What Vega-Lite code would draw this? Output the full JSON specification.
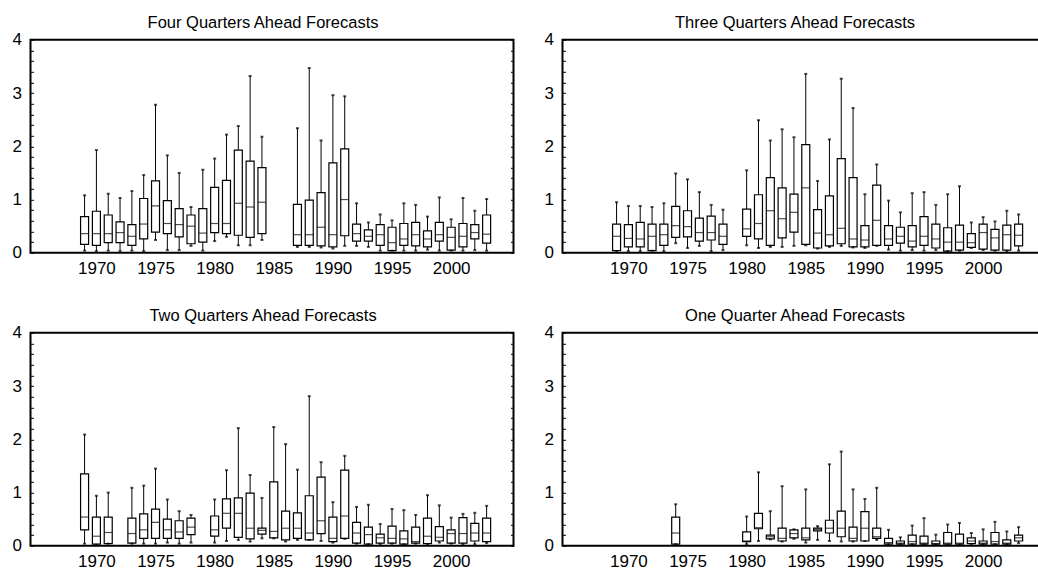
{
  "$schema": "https://vega.github.io/schema/vega-lite/v6.json",
  "padding": {"left": 10.5, "top": 13.8, "right": 0, "bottom": 0},
  "datasets": {
    "boxes": [
      {"p":"F4","year":1969,"lo":0.04,"q1":0.16,"med":0.36,"q3":0.68,"hi":1.08},
      {"p":"F4","year":1970,"lo":0.03,"q1":0.14,"med":0.36,"q3":0.78,"hi":1.93},
      {"p":"F4","year":1971,"lo":0.04,"q1":0.19,"med":0.36,"q3":0.71,"hi":1.11},
      {"p":"F4","year":1972,"lo":0.03,"q1":0.19,"med":0.38,"q3":0.58,"hi":1.03},
      {"p":"F4","year":1973,"lo":0.04,"q1":0.14,"med":0.31,"q3":0.53,"hi":1.16},
      {"p":"F4","year":1974,"lo":0.03,"q1":0.26,"med":0.54,"q3":1.02,"hi":1.46},
      {"p":"F4","year":1975,"lo":0.24,"q1":0.39,"med":0.88,"q3":1.35,"hi":2.78},
      {"p":"F4","year":1976,"lo":0.05,"q1":0.36,"med":0.55,"q3":0.98,"hi":1.83},
      {"p":"F4","year":1977,"lo":0.05,"q1":0.30,"med":0.53,"q3":0.83,"hi":1.50},
      {"p":"F4","year":1978,"lo":0.13,"q1":0.17,"med":0.50,"q3":0.71,"hi":0.86},
      {"p":"F4","year":1979,"lo":0.04,"q1":0.20,"med":0.37,"q3":0.83,"hi":1.56},
      {"p":"F4","year":1980,"lo":0.22,"q1":0.38,"med":0.55,"q3":1.23,"hi":1.77},
      {"p":"F4","year":1981,"lo":0.30,"q1":0.36,"med":0.55,"q3":1.36,"hi":2.22},
      {"p":"F4","year":1982,"lo":0.14,"q1":0.33,"med":0.93,"q3":1.93,"hi":2.38},
      {"p":"F4","year":1983,"lo":0.14,"q1":0.29,"med":0.86,"q3":1.72,"hi":3.32},
      {"p":"F4","year":1984,"lo":0.24,"q1":0.36,"med":0.95,"q3":1.60,"hi":2.18},
      {"p":"F4","year":1987,"lo":0.11,"q1":0.14,"med":0.34,"q3":0.91,"hi":2.34},
      {"p":"F4","year":1988,"lo":0.11,"q1":0.14,"med":0.34,"q3":0.99,"hi":3.47},
      {"p":"F4","year":1989,"lo":0.10,"q1":0.13,"med":0.48,"q3":1.13,"hi":2.11},
      {"p":"F4","year":1990,"lo":0.08,"q1":0.11,"med":0.34,"q3":1.69,"hi":2.96},
      {"p":"F4","year":1991,"lo":0.13,"q1":0.32,"med":1.00,"q3":1.95,"hi":2.94},
      {"p":"F4","year":1992,"lo":0.13,"q1":0.22,"med":0.36,"q3":0.54,"hi":0.93},
      {"p":"F4","year":1993,"lo":0.11,"q1":0.22,"med":0.31,"q3":0.43,"hi":0.57},
      {"p":"F4","year":1994,"lo":0.04,"q1":0.14,"med":0.34,"q3":0.53,"hi":0.72},
      {"p":"F4","year":1995,"lo":0.04,"q1":0.04,"med":0.19,"q3":0.48,"hi":0.61},
      {"p":"F4","year":1996,"lo":0.04,"q1":0.14,"med":0.26,"q3":0.55,"hi":0.93},
      {"p":"F4","year":1997,"lo":0.04,"q1":0.13,"med":0.34,"q3":0.57,"hi":0.90},
      {"p":"F4","year":1998,"lo":0.06,"q1":0.11,"med":0.26,"q3":0.41,"hi":0.68},
      {"p":"F4","year":1999,"lo":0.04,"q1":0.22,"med":0.34,"q3":0.57,"hi":1.04},
      {"p":"F4","year":2000,"lo":0.04,"q1":0.05,"med":0.29,"q3":0.48,"hi":0.63},
      {"p":"F4","year":2001,"lo":0.04,"q1":0.11,"med":0.31,"q3":0.55,"hi":1.03},
      {"p":"F4","year":2002,"lo":0.05,"q1":0.26,"med":0.38,"q3":0.53,"hi":0.79},
      {"p":"F4","year":2003,"lo":0.04,"q1":0.18,"med":0.35,"q3":0.71,"hi":1.01},

      {"p":"F3","year":1969,"lo":0.03,"q1":0.04,"med":0.31,"q3":0.54,"hi":0.95},
      {"p":"F3","year":1970,"lo":0.03,"q1":0.11,"med":0.27,"q3":0.53,"hi":0.88},
      {"p":"F3","year":1971,"lo":0.03,"q1":0.11,"med":0.26,"q3":0.57,"hi":0.88},
      {"p":"F3","year":1972,"lo":0.04,"q1":0.04,"med":0.31,"q3":0.54,"hi":0.86},
      {"p":"F3","year":1973,"lo":0.03,"q1":0.14,"med":0.34,"q3":0.54,"hi":0.93},
      {"p":"F3","year":1974,"lo":0.18,"q1":0.29,"med":0.51,"q3":0.87,"hi":1.49},
      {"p":"F3","year":1975,"lo":0.09,"q1":0.30,"med":0.49,"q3":0.79,"hi":1.38},
      {"p":"F3","year":1976,"lo":0.13,"q1":0.22,"med":0.38,"q3":0.65,"hi":1.14},
      {"p":"F3","year":1977,"lo":0.03,"q1":0.24,"med":0.38,"q3":0.69,"hi":0.90},
      {"p":"F3","year":1978,"lo":0.05,"q1":0.16,"med":0.31,"q3":0.54,"hi":0.81},
      {"p":"F3","year":1980,"lo":0.14,"q1":0.31,"med":0.45,"q3":0.82,"hi":1.55},
      {"p":"F3","year":1981,"lo":0.09,"q1":0.26,"med":0.55,"q3":1.09,"hi":2.49},
      {"p":"F3","year":1982,"lo":0.11,"q1":0.14,"med":0.79,"q3":1.41,"hi":2.11},
      {"p":"F3","year":1983,"lo":0.11,"q1":0.28,"med":0.64,"q3":1.22,"hi":2.32},
      {"p":"F3","year":1984,"lo":0.13,"q1":0.39,"med":0.76,"q3":1.10,"hi":2.17},
      {"p":"F3","year":1985,"lo":0.14,"q1":0.16,"med":1.22,"q3":2.03,"hi":3.36},
      {"p":"F3","year":1986,"lo":0.08,"q1":0.09,"med":0.37,"q3":0.81,"hi":1.35},
      {"p":"F3","year":1987,"lo":0.11,"q1":0.13,"med":0.34,"q3":1.07,"hi":2.13},
      {"p":"F3","year":1988,"lo":0.13,"q1":0.17,"med":0.46,"q3":1.77,"hi":3.27},
      {"p":"F3","year":1989,"lo":0.10,"q1":0.11,"med":0.26,"q3":1.41,"hi":2.72},
      {"p":"F3","year":1990,"lo":0.09,"q1":0.11,"med":0.24,"q3":0.51,"hi":1.10},
      {"p":"F3","year":1991,"lo":0.13,"q1":0.14,"med":0.61,"q3":1.27,"hi":1.66},
      {"p":"F3","year":1992,"lo":0.06,"q1":0.14,"med":0.26,"q3":0.51,"hi":0.98},
      {"p":"F3","year":1993,"lo":0.04,"q1":0.18,"med":0.31,"q3":0.48,"hi":0.76},
      {"p":"F3","year":1994,"lo":0.05,"q1":0.11,"med":0.22,"q3":0.51,"hi":1.12},
      {"p":"F3","year":1995,"lo":0.04,"q1":0.14,"med":0.31,"q3":0.68,"hi":1.14},
      {"p":"F3","year":1996,"lo":0.05,"q1":0.09,"med":0.26,"q3":0.54,"hi":0.90},
      {"p":"F3","year":1997,"lo":0.03,"q1":0.03,"med":0.20,"q3":0.47,"hi":1.10},
      {"p":"F3","year":1998,"lo":0.04,"q1":0.05,"med":0.20,"q3":0.52,"hi":1.25},
      {"p":"F3","year":1999,"lo":0.09,"q1":0.10,"med":0.19,"q3":0.36,"hi":0.57},
      {"p":"F3","year":2000,"lo":0.05,"q1":0.07,"med":0.38,"q3":0.54,"hi":0.67},
      {"p":"F3","year":2001,"lo":0.04,"q1":0.05,"med":0.28,"q3":0.44,"hi":0.59},
      {"p":"F3","year":2002,"lo":0.03,"q1":0.05,"med":0.34,"q3":0.52,"hi":0.79},
      {"p":"F3","year":2003,"lo":0.04,"q1":0.13,"med":0.33,"q3":0.54,"hi":0.72},

      {"p":"F2","year":1969,"lo":0.04,"q1":0.30,"med":0.54,"q3":1.35,"hi":2.09},
      {"p":"F2","year":1970,"lo":0.02,"q1":0.03,"med":0.18,"q3":0.54,"hi":0.94},
      {"p":"F2","year":1971,"lo":0.04,"q1":0.04,"med":0.25,"q3":0.54,"hi":1.00},
      {"p":"F2","year":1973,"lo":0.04,"q1":0.05,"med":0.23,"q3":0.52,"hi":1.09},
      {"p":"F2","year":1974,"lo":0.04,"q1":0.14,"med":0.30,"q3":0.60,"hi":1.13},
      {"p":"F2","year":1975,"lo":0.04,"q1":0.14,"med":0.44,"q3":0.69,"hi":1.45},
      {"p":"F2","year":1976,"lo":0.06,"q1":0.14,"med":0.30,"q3":0.50,"hi":0.87},
      {"p":"F2","year":1977,"lo":0.04,"q1":0.14,"med":0.26,"q3":0.47,"hi":0.65},
      {"p":"F2","year":1978,"lo":0.06,"q1":0.21,"med":0.35,"q3":0.52,"hi":0.58},
      {"p":"F2","year":1980,"lo":0.06,"q1":0.18,"med":0.30,"q3":0.56,"hi":0.87},
      {"p":"F2","year":1981,"lo":0.09,"q1":0.33,"med":0.61,"q3":0.88,"hi":1.42},
      {"p":"F2","year":1982,"lo":0.11,"q1":0.16,"med":0.61,"q3":0.90,"hi":2.21},
      {"p":"F2","year":1983,"lo":0.08,"q1":0.13,"med":0.33,"q3":0.99,"hi":1.33},
      {"p":"F2","year":1984,"lo":0.14,"q1":0.22,"med":0.29,"q3":0.33,"hi":0.90},
      {"p":"F2","year":1985,"lo":0.14,"q1":0.15,"med":0.27,"q3":1.20,"hi":2.23},
      {"p":"F2","year":1986,"lo":0.08,"q1":0.11,"med":0.33,"q3":0.65,"hi":1.91},
      {"p":"F2","year":1987,"lo":0.11,"q1":0.14,"med":0.33,"q3":0.62,"hi":1.43},
      {"p":"F2","year":1988,"lo":0.11,"q1":0.11,"med":0.24,"q3":0.94,"hi":2.81},
      {"p":"F2","year":1989,"lo":0.09,"q1":0.23,"med":0.47,"q3":1.29,"hi":1.57},
      {"p":"F2","year":1990,"lo":0.06,"q1":0.08,"med":0.14,"q3":0.54,"hi":0.82},
      {"p":"F2","year":1991,"lo":0.13,"q1":0.14,"med":0.56,"q3":1.42,"hi":1.69},
      {"p":"F2","year":1992,"lo":0.04,"q1":0.05,"med":0.24,"q3":0.44,"hi":0.73},
      {"p":"F2","year":1993,"lo":0.03,"q1":0.03,"med":0.21,"q3":0.35,"hi":0.77},
      {"p":"F2","year":1994,"lo":0.03,"q1":0.05,"med":0.15,"q3":0.22,"hi":0.41},
      {"p":"F2","year":1995,"lo":0.04,"q1":0.05,"med":0.14,"q3":0.37,"hi":0.69},
      {"p":"F2","year":1996,"lo":0.03,"q1":0.03,"med":0.13,"q3":0.28,"hi":0.67},
      {"p":"F2","year":1997,"lo":0.04,"q1":0.05,"med":0.08,"q3":0.35,"hi":0.58},
      {"p":"F2","year":1998,"lo":0.03,"q1":0.04,"med":0.18,"q3":0.52,"hi":0.95},
      {"p":"F2","year":1999,"lo":0.06,"q1":0.09,"med":0.16,"q3":0.36,"hi":0.76},
      {"p":"F2","year":2000,"lo":0.04,"q1":0.05,"med":0.23,"q3":0.30,"hi":0.53},
      {"p":"F2","year":2001,"lo":0.03,"q1":0.05,"med":0.23,"q3":0.53,"hi":0.60},
      {"p":"F2","year":2002,"lo":0.03,"q1":0.09,"med":0.24,"q3":0.42,"hi":0.62},
      {"p":"F2","year":2003,"lo":0.05,"q1":0.08,"med":0.24,"q3":0.52,"hi":0.75},

      {"p":"F1","year":1974,"lo":0.03,"q1":0.03,"med":0.24,"q3":0.54,"hi":0.78},
      {"p":"F1","year":1980,"lo":0.03,"q1":0.08,"med":0.09,"q3":0.26,"hi":0.55},
      {"p":"F1","year":1981,"lo":0.09,"q1":0.32,"med":0.34,"q3":0.61,"hi":1.38},
      {"p":"F1","year":1982,"lo":0.12,"q1":0.13,"med":0.17,"q3":0.20,"hi":0.65},
      {"p":"F1","year":1983,"lo":0.08,"q1":0.09,"med":0.14,"q3":0.33,"hi":1.12},
      {"p":"F1","year":1984,"lo":0.13,"q1":0.15,"med":0.23,"q3":0.30,"hi":0.31},
      {"p":"F1","year":1985,"lo":0.06,"q1":0.11,"med":0.15,"q3":0.33,"hi":1.06},
      {"p":"F1","year":1986,"lo":0.11,"q1":0.28,"med":0.31,"q3":0.33,"hi":0.37},
      {"p":"F1","year":1987,"lo":0.09,"q1":0.24,"med":0.33,"q3":0.48,"hi":1.53},
      {"p":"F1","year":1988,"lo":0.08,"q1":0.17,"med":0.33,"q3":0.65,"hi":1.77},
      {"p":"F1","year":1989,"lo":0.08,"q1":0.09,"med":0.14,"q3":0.35,"hi":1.06},
      {"p":"F1","year":1990,"lo":0.09,"q1":0.09,"med":0.33,"q3":0.64,"hi":0.88},
      {"p":"F1","year":1991,"lo":0.11,"q1":0.14,"med":0.17,"q3":0.33,"hi":1.09},
      {"p":"F1","year":1992,"lo":0.03,"q1":0.03,"med":0.06,"q3":0.14,"hi":0.30},
      {"p":"F1","year":1993,"lo":0.03,"q1":0.03,"med":0.05,"q3":0.09,"hi":0.16},
      {"p":"F1","year":1994,"lo":0.03,"q1":0.03,"med":0.08,"q3":0.20,"hi":0.38},
      {"p":"F1","year":1995,"lo":0.03,"q1":0.03,"med":0.05,"q3":0.18,"hi":0.52},
      {"p":"F1","year":1996,"lo":0.02,"q1":0.03,"med":0.04,"q3":0.09,"hi":0.21},
      {"p":"F1","year":1997,"lo":0.02,"q1":0.03,"med":0.05,"q3":0.25,"hi":0.40},
      {"p":"F1","year":1998,"lo":0.02,"q1":0.03,"med":0.05,"q3":0.22,"hi":0.43},
      {"p":"F1","year":1999,"lo":0.03,"q1":0.04,"med":0.09,"q3":0.15,"hi":0.24},
      {"p":"F1","year":2000,"lo":0.03,"q1":0.03,"med":0.05,"q3":0.09,"hi":0.31},
      {"p":"F1","year":2001,"lo":0.03,"q1":0.03,"med":0.08,"q3":0.25,"hi":0.45},
      {"p":"F1","year":2002,"lo":0.03,"q1":0.03,"med":0.05,"q3":0.11,"hi":0.27},
      {"p":"F1","year":2003,"lo":0.05,"q1":0.09,"med":0.15,"q3":0.20,"hi":0.35}
    ]
  },
  "columns": 2,
  "spacing": {"row": 29, "column": 27},
  "concat": [
    {
      "title": "Four Quarters Ahead Forecasts",
      "width": 483, "height": 213,
      "data": {"name": "boxes"},
      "transform": [{"filter": "datum.p === 'F4'"}],
      "encoding": {"x": {"field": "year", "type": "quantitative", "scale": {"domain": [1964.85, 2004.85], "nice": false, "zero": false}, "axis": {"values": [1970,1975,1980,1985,1990,1995,2000], "format": "d", "ticks": false, "labelPadding": 8, "title": null}}},
      "resolve": {"axis": {"y": "independent"}},
      "layer": [
        {"mark": {"type": "rule", "color": "black", "strokeWidth": 1}, "encoding": {"y": {"field": "lo", "type": "quantitative", "scale": {"domain": [0, 4], "nice": false}, "axis": {"orient": "left", "values": [0,0.2,0.4,0.6,0.8,1,1.2,1.4,1.6,1.8,2,2.2,2.4,2.6,2.8,3,3.2,3.4,3.6,3.8,4], "labelExpr": "datum.value % 1 === 0 ? format(datum.value, 'd') : ''", "tickSize": -3, "labelPadding": 12, "labelOverlap": false, "title": null}}, "y2": {"field": "hi"}}},
        {"mark": {"type": "bar", "fill": "white", "stroke": "black", "strokeWidth": 1.2, "size": 8}, "encoding": {"y": {"field": "q1", "type": "quantitative", "scale": {"domain": [0, 4], "nice": false}, "axis": {"orient": "right", "values": [0,0.2,0.4,0.6,0.8,1,1.2,1.4,1.6,1.8,2,2.2,2.4,2.6,2.8,3,3.2,3.4,3.6,3.8,4], "labels": false, "tickSize": -3, "title": null}}, "y2": {"field": "q3"}}},
        {"mark": {"type": "tick", "orient": "horizontal", "color": "black", "size": 8, "thickness": 1.2}, "encoding": {"y": {"field": "med", "type": "quantitative", "scale": {"domain": [0, 4], "nice": false}, "axis": null}}},
        {"mark": {"type": "tick", "orient": "horizontal", "color": "black", "size": 3, "thickness": 2}, "encoding": {"y": {"field": "hi", "type": "quantitative", "scale": {"domain": [0, 4], "nice": false}, "axis": null}}},
        {"mark": {"type": "tick", "orient": "horizontal", "color": "black", "size": 3, "thickness": 2}, "encoding": {"y": {"field": "lo", "type": "quantitative", "scale": {"domain": [0, 4], "nice": false}, "axis": null}}}
      ]
    },
    {
      "title": "Three Quarters Ahead Forecasts",
      "width": 483, "height": 213,
      "data": {"name": "boxes"},
      "transform": [{"filter": "datum.p === 'F3'"}],
      "encoding": {"x": {"field": "year", "type": "quantitative", "scale": {"domain": [1964.85, 2004.85], "nice": false, "zero": false}, "axis": {"values": [1970,1975,1980,1985,1990,1995,2000], "format": "d", "ticks": false, "labelPadding": 8, "title": null}}},
      "resolve": {"axis": {"y": "independent"}},
      "layer": [
        {"mark": {"type": "rule", "color": "black", "strokeWidth": 1}, "encoding": {"y": {"field": "lo", "type": "quantitative", "scale": {"domain": [0, 4], "nice": false}, "axis": {"orient": "left", "values": [0,0.2,0.4,0.6,0.8,1,1.2,1.4,1.6,1.8,2,2.2,2.4,2.6,2.8,3,3.2,3.4,3.6,3.8,4], "labelExpr": "datum.value % 1 === 0 ? format(datum.value, 'd') : ''", "tickSize": -3, "labelPadding": 12, "labelOverlap": false, "title": null}}, "y2": {"field": "hi"}}},
        {"mark": {"type": "bar", "fill": "white", "stroke": "black", "strokeWidth": 1.2, "size": 8}, "encoding": {"y": {"field": "q1", "type": "quantitative", "scale": {"domain": [0, 4], "nice": false}, "axis": {"orient": "right", "values": [0,0.2,0.4,0.6,0.8,1,1.2,1.4,1.6,1.8,2,2.2,2.4,2.6,2.8,3,3.2,3.4,3.6,3.8,4], "labels": false, "tickSize": -3, "title": null}}, "y2": {"field": "q3"}}},
        {"mark": {"type": "tick", "orient": "horizontal", "color": "black", "size": 8, "thickness": 1.2}, "encoding": {"y": {"field": "med", "type": "quantitative", "scale": {"domain": [0, 4], "nice": false}, "axis": null}}},
        {"mark": {"type": "tick", "orient": "horizontal", "color": "black", "size": 3, "thickness": 2}, "encoding": {"y": {"field": "hi", "type": "quantitative", "scale": {"domain": [0, 4], "nice": false}, "axis": null}}},
        {"mark": {"type": "tick", "orient": "horizontal", "color": "black", "size": 3, "thickness": 2}, "encoding": {"y": {"field": "lo", "type": "quantitative", "scale": {"domain": [0, 4], "nice": false}, "axis": null}}}
      ]
    },
    {
      "title": "Two Quarters Ahead Forecasts",
      "width": 483, "height": 213,
      "data": {"name": "boxes"},
      "transform": [{"filter": "datum.p === 'F2'"}],
      "encoding": {"x": {"field": "year", "type": "quantitative", "scale": {"domain": [1964.85, 2004.85], "nice": false, "zero": false}, "axis": {"values": [1970,1975,1980,1985,1990,1995,2000], "format": "d", "ticks": false, "labelPadding": 8, "title": null}}},
      "resolve": {"axis": {"y": "independent"}},
      "layer": [
        {"mark": {"type": "rule", "color": "black", "strokeWidth": 1}, "encoding": {"y": {"field": "lo", "type": "quantitative", "scale": {"domain": [0, 4], "nice": false}, "axis": {"orient": "left", "values": [0,0.2,0.4,0.6,0.8,1,1.2,1.4,1.6,1.8,2,2.2,2.4,2.6,2.8,3,3.2,3.4,3.6,3.8,4], "labelExpr": "datum.value % 1 === 0 ? format(datum.value, 'd') : ''", "tickSize": -3, "labelPadding": 12, "labelOverlap": false, "title": null}}, "y2": {"field": "hi"}}},
        {"mark": {"type": "bar", "fill": "white", "stroke": "black", "strokeWidth": 1.2, "size": 8}, "encoding": {"y": {"field": "q1", "type": "quantitative", "scale": {"domain": [0, 4], "nice": false}, "axis": {"orient": "right", "values": [0,0.2,0.4,0.6,0.8,1,1.2,1.4,1.6,1.8,2,2.2,2.4,2.6,2.8,3,3.2,3.4,3.6,3.8,4], "labels": false, "tickSize": -3, "title": null}}, "y2": {"field": "q3"}}},
        {"mark": {"type": "tick", "orient": "horizontal", "color": "black", "size": 8, "thickness": 1.2}, "encoding": {"y": {"field": "med", "type": "quantitative", "scale": {"domain": [0, 4], "nice": false}, "axis": null}}},
        {"mark": {"type": "tick", "orient": "horizontal", "color": "black", "size": 3, "thickness": 2}, "encoding": {"y": {"field": "hi", "type": "quantitative", "scale": {"domain": [0, 4], "nice": false}, "axis": null}}},
        {"mark": {"type": "tick", "orient": "horizontal", "color": "black", "size": 3, "thickness": 2}, "encoding": {"y": {"field": "lo", "type": "quantitative", "scale": {"domain": [0, 4], "nice": false}, "axis": null}}}
      ]
    },
    {
      "title": "One Quarter Ahead Forecasts",
      "width": 483, "height": 213,
      "data": {"name": "boxes"},
      "transform": [{"filter": "datum.p === 'F1'"}],
      "encoding": {"x": {"field": "year", "type": "quantitative", "scale": {"domain": [1964.85, 2004.85], "nice": false, "zero": false}, "axis": {"values": [1970,1975,1980,1985,1990,1995,2000], "format": "d", "ticks": false, "labelPadding": 8, "title": null}}},
      "resolve": {"axis": {"y": "independent"}},
      "layer": [
        {"mark": {"type": "rule", "color": "black", "strokeWidth": 1}, "encoding": {"y": {"field": "lo", "type": "quantitative", "scale": {"domain": [0, 4], "nice": false}, "axis": {"orient": "left", "values": [0,0.2,0.4,0.6,0.8,1,1.2,1.4,1.6,1.8,2,2.2,2.4,2.6,2.8,3,3.2,3.4,3.6,3.8,4], "labelExpr": "datum.value % 1 === 0 ? format(datum.value, 'd') : ''", "tickSize": -3, "labelPadding": 12, "labelOverlap": false, "title": null}}, "y2": {"field": "hi"}}},
        {"mark": {"type": "bar", "fill": "white", "stroke": "black", "strokeWidth": 1.2, "size": 8}, "encoding": {"y": {"field": "q1", "type": "quantitative", "scale": {"domain": [0, 4], "nice": false}, "axis": {"orient": "right", "values": [0,0.2,0.4,0.6,0.8,1,1.2,1.4,1.6,1.8,2,2.2,2.4,2.6,2.8,3,3.2,3.4,3.6,3.8,4], "labels": false, "tickSize": -3, "title": null}}, "y2": {"field": "q3"}}},
        {"mark": {"type": "tick", "orient": "horizontal", "color": "black", "size": 8, "thickness": 1.2}, "encoding": {"y": {"field": "med", "type": "quantitative", "scale": {"domain": [0, 4], "nice": false}, "axis": null}}},
        {"mark": {"type": "tick", "orient": "horizontal", "color": "black", "size": 3, "thickness": 2}, "encoding": {"y": {"field": "hi", "type": "quantitative", "scale": {"domain": [0, 4], "nice": false}, "axis": null}}},
        {"mark": {"type": "tick", "orient": "horizontal", "color": "black", "size": 3, "thickness": 2}, "encoding": {"y": {"field": "lo", "type": "quantitative", "scale": {"domain": [0, 4], "nice": false}, "axis": null}}}
      ]
    }
  ],
  "config": {
    "font": "Liberation Sans",
    "background": "white",
    "view": {"stroke": "black", "strokeWidth": 2},
    "axis": {"grid": false, "domain": false, "labelFontSize": 17, "labelColor": "black", "labelFont": "Liberation Sans", "tickColor": "black", "tickWidth": 1},
    "title": {"fontSize": 16.5, "fontWeight": "normal", "color": "black", "font": "Liberation Sans", "anchor": "middle", "frame": "bounds", "offset": -1}
  }
}
